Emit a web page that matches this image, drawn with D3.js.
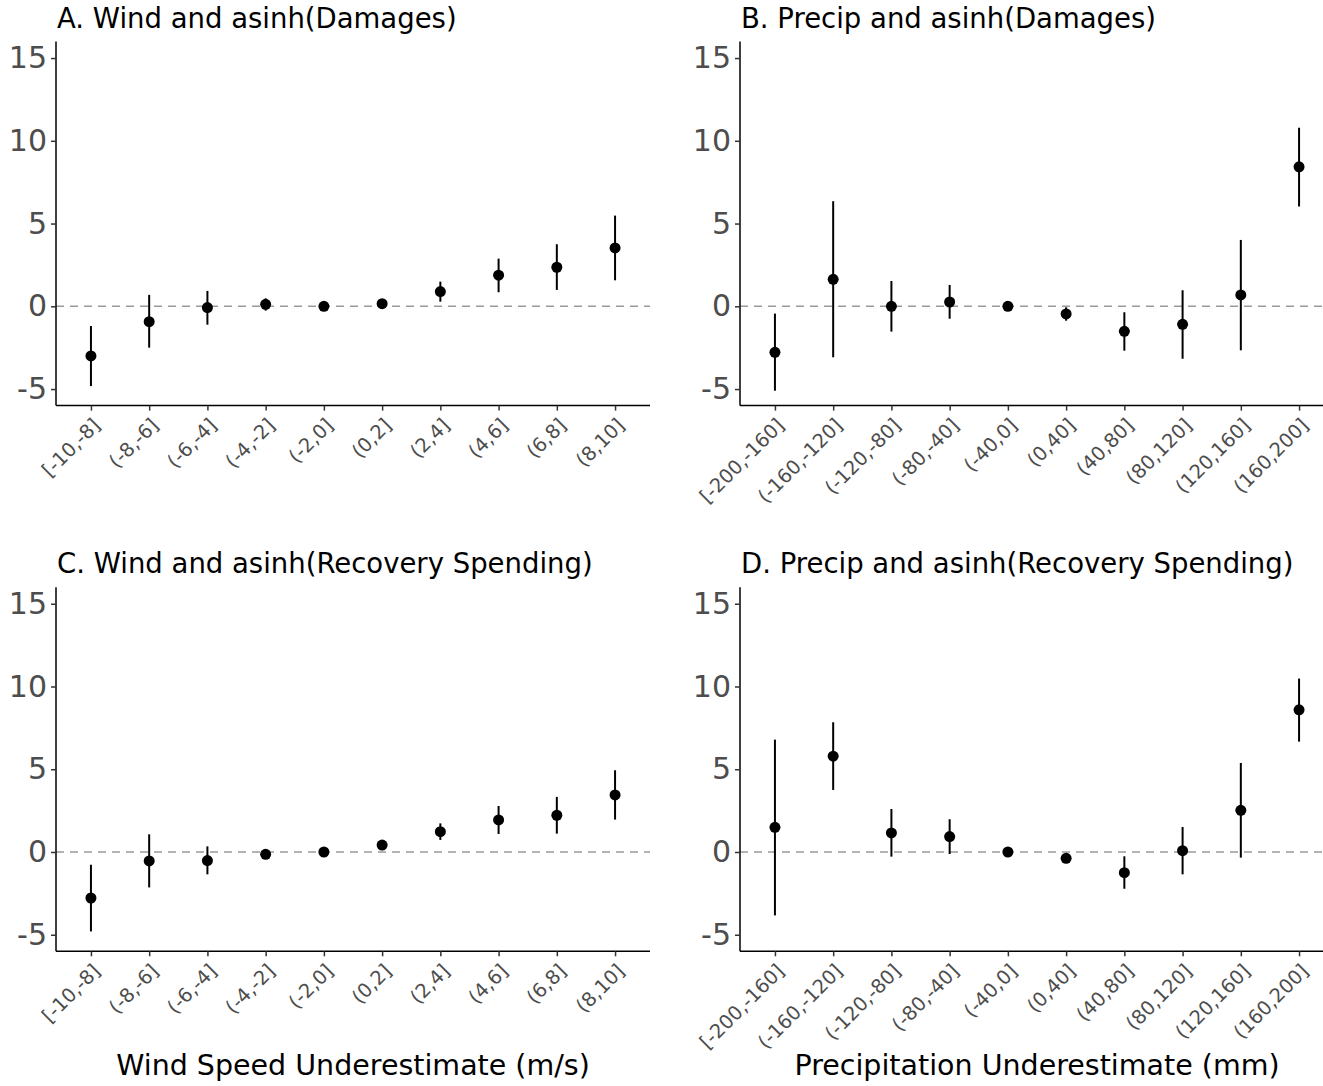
<!DOCTYPE html>
<html>
<head>
<meta charset="utf-8">
<script src="https://cdn.jsdelivr.net/npm/d3@7"></script>
<style>
  html, body { margin: 0; padding: 0; background: #fff; }
  svg { display: block; font-family: "DejaVu Sans", sans-serif; }
</style>
</head>
<body>
<svg id="chart" width="1323" height="1086"></svg>
<script>
// ---- data ----
const windCategories = ["[-10,-8]","(-8,-6]","(-6,-4]","(-4,-2]","(-2,0]","(0,2]","(2,4]","(4,6]","(6,8]","(8,10]"];
const precipCategories = ["[-200,-160]","(-160,-120]","(-120,-80]","(-80,-40]","(-40,0]","(0,40]","(40,80]","(80,120]","(120,160]","(160,200]"];
const yTickValues = [-5, 0, 5, 10, 15];
const yTickLabels = ["-5", "0", "5", "10", "15"];

const panelTitles = ["A. Wind and asinh(Damages)", "B. Precip and asinh(Damages)",
                     "C. Wind and asinh(Recovery Spending)", "D. Precip and asinh(Recovery Spending)"];
const axisTitles = ["Wind Speed Underestimate (m/s)", "Precipitation Underestimate (mm)"];

// Panel A: Wind, damages
const windDamagesEst = [-3.00, -0.93, -0.08, 0.12, 0, 0.16, 0.89, 1.88, 2.36, 3.53];
const windDamagesLo  = [-4.82, -2.50, -1.11, -0.26, 0, 0.02, 0.28, 0.85, 0.99, 1.57];
const windDamagesHi  = [-1.19,  0.69,  0.93,  0.48, 0, 0.30, 1.49, 2.88, 3.75, 5.48];
// Panel B: Precip, damages
const precipDamagesEst = [-2.78, 1.63, 0.00, 0.26, 0, -0.46, -1.51, -1.09, 0.69, 8.43];
const precipDamagesLo  = [-5.10, -3.08, -1.53, -0.75, 0, -0.87, -2.68, -3.17, -2.66, 6.03];
const precipDamagesHi  = [-0.44, 6.35, 1.53, 1.29, 0, -0.06, -0.36, 0.97, 4.01, 10.79];
// Panel C: Wind, recovery spending
const windRecoveryEst = [-2.78, -0.54, -0.52, -0.14, 0, 0.42, 1.23, 1.94, 2.22, 3.45];
const windRecoveryLo  = [-4.80, -2.14, -1.35, -0.30, 0, 0.28, 0.73, 1.09, 1.11, 1.96];
const windRecoveryHi  = [-0.77, 1.07, 0.34, 0.02, 0, 0.56, 1.73, 2.78, 3.33, 4.94];
// Panel D: Precip, recovery spending
const precipRecoveryEst = [1.49, 5.79, 1.15, 0.93, 0, -0.38, -1.25, 0.08, 2.52, 8.59];
const precipRecoveryLo  = [-3.83, 3.75, -0.28, -0.12, 0, -0.50, -2.22, -1.35, -0.34, 6.67];
const precipRecoveryHi  = [6.79, 7.84, 2.60, 1.98, 0, -0.26, -0.26, 1.51, 5.38, 10.48];

// ---- layout ----
const svg = d3.select("#chart");
const panels = [
  {title: panelTitles[0], cats: windCategories, est: windDamagesEst, lo: windDamagesLo, hi: windDamagesHi, x0: 56, x1: 650, yTop: 41.5, yBot: 405.6, titleY: 28},
  {title: panelTitles[1], cats: precipCategories, est: precipDamagesEst, lo: precipDamagesLo, hi: precipDamagesHi, x0: 740, x1: 1334, yTop: 41.5, yBot: 405.6, titleY: 28},
  {title: panelTitles[2], cats: windCategories, est: windRecoveryEst, lo: windRecoveryLo, hi: windRecoveryHi, x0: 56, x1: 650, yTop: 587.2, yBot: 951.3, titleY: 573},
  {title: panelTitles[3], cats: precipCategories, est: precipRecoveryEst, lo: precipRecoveryLo, hi: precipRecoveryHi, x0: 740, x1: 1334, yTop: 587.2, yBot: 951.3, titleY: 573}
];

panels.forEach(p => {
  const g = svg.append("g");
  const x = d3.scalePoint().domain(p.cats).range([p.x0, p.x1]).padding(0.6);
  const y = d3.scaleLinear().domain([-6, 16]).range([p.yBot, p.yTop]);
  const rows = p.cats.map((c, i) => ({c, est: p.est[i], lo: p.lo[i], hi: p.hi[i]}));

  // reference line
  g.append("line")
    .attr("x1", p.x0).attr("x2", p.x1)
    .attr("y1", y(0)).attr("y2", y(0))
    .attr("stroke", "#9a9a9a").attr("stroke-width", 1.5)
    .attr("stroke-dasharray", "8,6");

  // error bars
  g.selectAll("line.err").data(rows.filter(d => d.hi !== d.lo)).join("line")
    .attr("class", "err")
    .attr("x1", d => x(d.c)).attr("x2", d => x(d.c))
    .attr("y1", d => y(d.lo)).attr("y2", d => y(d.hi))
    .attr("stroke", "#000").attr("stroke-width", 2);

  // points
  g.selectAll("circle").data(rows).join("circle")
    .attr("cx", d => x(d.c)).attr("cy", d => y(d.est))
    .attr("r", 5.5).attr("fill", "#000");

  // y axis
  const yAxis = d3.axisLeft(y).tickValues(yTickValues)
    .tickFormat((d, i) => yTickLabels[i]).tickSize(5).tickPadding(4);
  const ya = g.append("g").attr("transform", `translate(${p.x0},0)`).call(yAxis);
  ya.select(".domain").attr("stroke", "#000").attr("stroke-width", 1.5)
    .attr("d", `M0,${p.yTop}V${p.yBot}`);
  ya.selectAll(".tick line").attr("stroke", "#333").attr("stroke-width", 1.5);
  ya.selectAll(".tick text").attr("fill", "#4d4d4d").style("font-size", "30px")
    .attr("font-family", "DejaVu Sans");

  // x axis
  const xAxis = d3.axisBottom(x).tickSize(5);
  const xa = g.append("g").attr("transform", `translate(0,${p.yBot})`).call(xAxis);
  xa.select(".domain").attr("stroke", "#000").attr("stroke-width", 1.5)
    .attr("d", `M${p.x0},0H${p.x1}`);
  xa.selectAll(".tick line").attr("stroke", "#333").attr("stroke-width", 1.5);
  xa.selectAll(".tick text")
    .attr("fill", "#4d4d4d").style("font-size", "19.5px").attr("font-family", "DejaVu Sans")
    .attr("text-anchor", "end").attr("dy", null).attr("y", null)
    .attr("transform", "translate(10,21) rotate(-45)");

  // title
  g.append("text").attr("x", p.x0 + 1).attr("y", p.titleY)
    .attr("font-size", 27.5).attr("fill", "#000").text(p.title);
});

// axis titles
svg.append("text").attr("x", 353).attr("y", 1075).attr("text-anchor", "middle")
  .attr("font-size", 28.5).attr("fill", "#000").text(axisTitles[0]);
svg.append("text").attr("x", 1037).attr("y", 1075).attr("text-anchor", "middle")
  .attr("font-size", 28.5).attr("fill", "#000").text(axisTitles[1]);
</script>
</body>
</html>
